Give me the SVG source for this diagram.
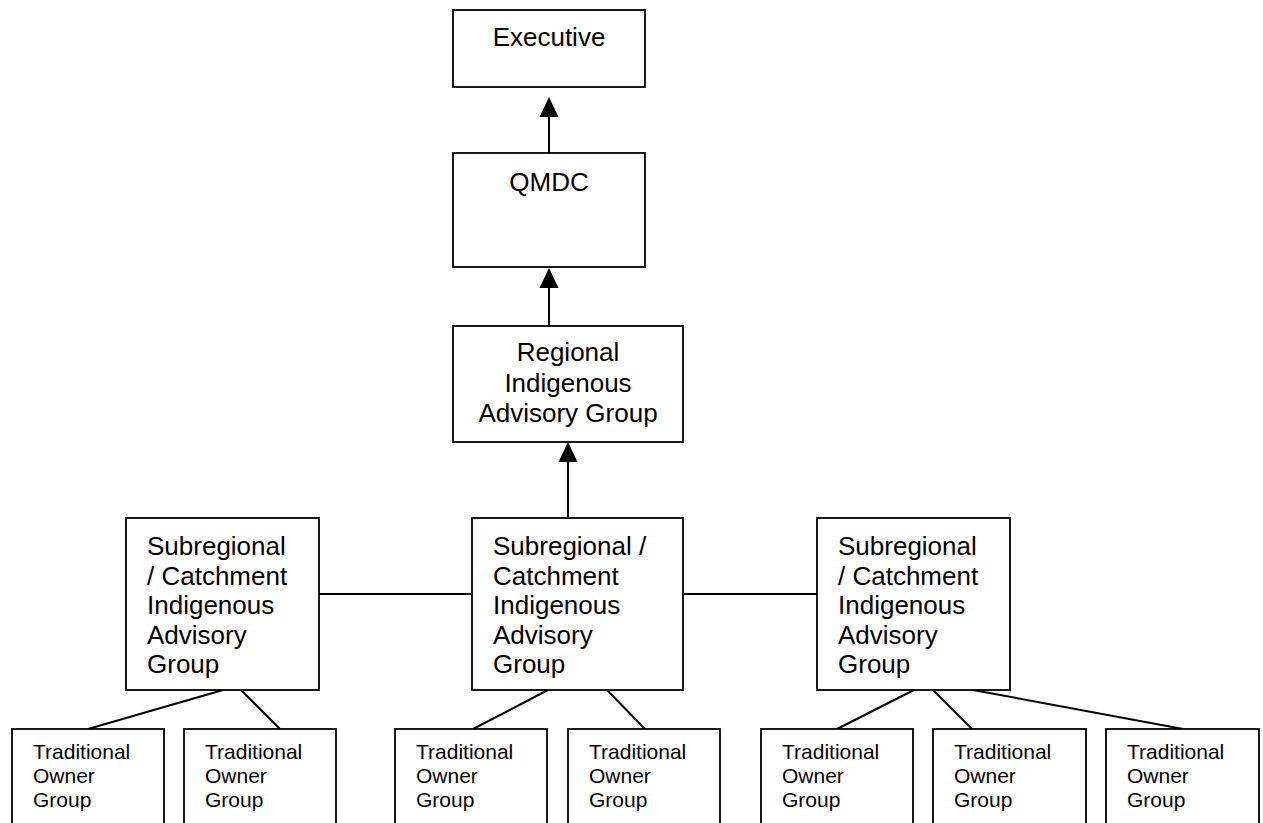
<svg xmlns="http://www.w3.org/2000/svg" width="1263" height="823" viewBox="0 0 1263 823">
<style>
.box{fill:#fff;stroke:#000;stroke-width:1.8}
.ln{stroke:#000;stroke-width:2;fill:none}
.t{font-family:"Liberation Sans",Arial,sans-serif;font-size:26px;fill:#000}
.s{font-family:"Liberation Sans",Arial,sans-serif;font-size:21px;fill:#000}
.c{text-anchor:middle}
</style>
<defs>
<marker id="ah" markerUnits="userSpaceOnUse" markerWidth="20" markerHeight="20" refX="0" refY="9.5" orient="auto" viewBox="0 0 20 19">
<path d="M0,0 L20,9.5 L0,19 Z" fill="#000"/>
</marker>
</defs>
<rect width="1263" height="823" fill="#fff"/>
<g id="connectors">
<line class="ln" x1="549" y1="153" x2="549" y2="117" marker-end="url(#ah)"/>
<line class="ln" x1="549" y1="326" x2="549" y2="288" marker-end="url(#ah)"/>
<line class="ln" x1="568" y1="518" x2="568" y2="462" marker-end="url(#ah)"/>
<line class="ln" x1="319" y1="594" x2="492" y2="594"/>
<line class="ln" x1="683" y1="594" x2="837" y2="594"/>
<line class="ln" x1="223" y1="690" x2="88" y2="729"/>
<line class="ln" x1="241" y1="690" x2="280" y2="729"/>
<line class="ln" x1="548" y1="690" x2="473" y2="729"/>
<line class="ln" x1="607" y1="690" x2="645" y2="729"/>
<line class="ln" x1="914" y1="690" x2="837" y2="729"/>
<line class="ln" x1="933" y1="690" x2="972" y2="729"/>
<line class="ln" x1="973" y1="690" x2="1183" y2="729"/>
</g>
<g id="executive">
<rect class="box" x="453" y="10" width="192" height="77"/>
<text class="t c" x="549" y="46">Executive</text>
</g>
<g id="qmdc">
<rect class="box" x="453" y="153" width="192" height="114"/>
<text class="t c" x="549" y="191">QMDC</text>
</g>
<g id="riag">
<rect class="box" x="453" y="326" width="230" height="116"/>
<text class="t c" x="568" y="361">Regional</text>
<text class="t c" x="568" y="392">Indigenous</text>
<text class="t c" x="568" y="422">Advisory Group</text>
</g>
<g id="sciag-left">
<rect class="box" x="126" y="518" width="193" height="172"/>
<text class="t" x="147" y="555">Subregional</text>
<text class="t" x="147" y="584.5">/ Catchment</text>
<text class="t" x="147" y="614">Indigenous</text>
<text class="t" x="147" y="643.5">Advisory</text>
<text class="t" x="147" y="673">Group</text>
</g>
<g id="sciag-center">
<rect class="box" x="472" y="518" width="211" height="172"/>
<text class="t" x="493" y="555">Subregional /</text>
<text class="t" x="493" y="584.5">Catchment</text>
<text class="t" x="493" y="614">Indigenous</text>
<text class="t" x="493" y="643.5">Advisory</text>
<text class="t" x="493" y="673">Group</text>
</g>
<g id="sciag-right">
<rect class="box" x="817" y="518" width="193" height="172"/>
<text class="t" x="838" y="555">Subregional</text>
<text class="t" x="838" y="584.5">/ Catchment</text>
<text class="t" x="838" y="614">Indigenous</text>
<text class="t" x="838" y="643.5">Advisory</text>
<text class="t" x="838" y="673">Group</text>
</g>
<g id="tog1">
<rect class="box" x="12" y="729" width="152" height="110"/>
<text class="s" x="33" y="759">Traditional</text>
<text class="s" x="33" y="783">Owner</text>
<text class="s" x="33" y="807">Group</text>
</g>
<g id="tog2">
<rect class="box" x="184" y="729" width="152" height="110"/>
<text class="s" x="205" y="759">Traditional</text>
<text class="s" x="205" y="783">Owner</text>
<text class="s" x="205" y="807">Group</text>
</g>
<g id="tog3">
<rect class="box" x="395" y="729" width="152" height="110"/>
<text class="s" x="416" y="759">Traditional</text>
<text class="s" x="416" y="783">Owner</text>
<text class="s" x="416" y="807">Group</text>
</g>
<g id="tog4">
<rect class="box" x="568" y="729" width="152" height="110"/>
<text class="s" x="589" y="759">Traditional</text>
<text class="s" x="589" y="783">Owner</text>
<text class="s" x="589" y="807">Group</text>
</g>
<g id="tog5">
<rect class="box" x="761" y="729" width="152" height="110"/>
<text class="s" x="782" y="759">Traditional</text>
<text class="s" x="782" y="783">Owner</text>
<text class="s" x="782" y="807">Group</text>
</g>
<g id="tog6">
<rect class="box" x="933" y="729" width="153" height="110"/>
<text class="s" x="954" y="759">Traditional</text>
<text class="s" x="954" y="783">Owner</text>
<text class="s" x="954" y="807">Group</text>
</g>
<g id="tog7">
<rect class="box" x="1106" y="729" width="153" height="110"/>
<text class="s" x="1127" y="759">Traditional</text>
<text class="s" x="1127" y="783">Owner</text>
<text class="s" x="1127" y="807">Group</text>
</g>
</svg>
